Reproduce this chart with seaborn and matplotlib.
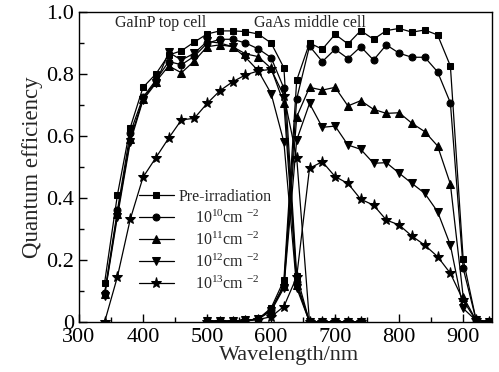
import numpy as np
import pandas as pd
import matplotlib
matplotlib.use("Agg")
import matplotlib.pyplot as plt
import seaborn as sns
from matplotlib.ticker import MultipleLocator, FixedLocator, FixedFormatter

sns.set_theme(style="white")
plt.rcParams['font.family'] = ['Liberation Serif', 'DejaVu Serif']
plt.rcParams['mathtext.fontset'] = 'custom'
plt.rcParams['mathtext.rm'] = 'Liberation Serif'
plt.rcParams['mathtext.it'] = 'Liberation Serif:italic'

# ---------------- data ----------------
wl_top = [340, 360, 380, 400, 420, 440, 460, 480, 500, 520, 540, 560, 580,
          600, 620, 640, 660, 680, 700, 720, 740]
top_pre = [0.127, 0.41, 0.627, 0.757, 0.80, 0.861, 0.875, 0.903, 0.929, 0.939, 0.939,
           0.937, 0.929, 0.90, 0.82, 0.15, 0.0, 0.0, 0.0, 0.0, 0.0]
top_e10 = [0.092, 0.36, 0.61, 0.725, 0.78, 0.84, 0.83, 0.857, 0.899, 0.912, 0.912,
           0.90, 0.881, 0.853, 0.754, 0.13, 0.0, 0.0, 0.0, 0.0, 0.0]
top_e11 = [0.09, 0.35, 0.59, 0.72, 0.775, 0.826, 0.804, 0.842, 0.888, 0.894, 0.888,
           0.865, 0.856, 0.818, 0.705, 0.12, 0.0, 0.0, 0.0, 0.0, 0.0]
top_e12 = [0.085, 0.34, 0.58, 0.716, 0.77, 0.87, 0.845, 0.867, 0.905, 0.90, 0.888,
           0.854, 0.81, 0.737, 0.58, 0.11, 0.0, 0.0, 0.0, 0.0, 0.0]
top_e13 = [0.0, 0.146, 0.331, 0.467, 0.53, 0.593, 0.652, 0.657, 0.705, 0.746, 0.775,
           0.797, 0.81, 0.815, 0.73, 0.53, 0.0, 0.0, 0.0, 0.0, 0.0]

wl_mid = [500, 520, 540, 560, 580, 600, 620, 640, 660, 680, 700, 720, 740, 760,
          780, 800, 820, 840, 860, 880, 900, 920, 940]
mid_pre = [0.003, 0.003, 0.003, 0.005, 0.01, 0.045, 0.135, 0.78, 0.90, 0.88, 0.928,
           0.897, 0.94, 0.912, 0.94, 0.947, 0.935, 0.942, 0.926, 0.826, 0.202, 0.008, 0.0]
mid_e10 = [0.003, 0.003, 0.003, 0.005, 0.01, 0.04, 0.12, 0.72, 0.89, 0.84, 0.88,
           0.85, 0.888, 0.845, 0.894, 0.867, 0.854, 0.854, 0.807, 0.707, 0.173, 0.008, 0.0]
mid_e11 = [0.003, 0.003, 0.003, 0.005, 0.01, 0.04, 0.115, 0.662, 0.757, 0.748, 0.757,
           0.697, 0.714, 0.686, 0.673, 0.675, 0.641, 0.614, 0.568, 0.445, 0.082, 0.006, 0.0]
mid_e12 = [0.003, 0.003, 0.003, 0.005, 0.01, 0.035, 0.11, 0.587, 0.705, 0.628, 0.632,
           0.571, 0.557, 0.512, 0.514, 0.48, 0.447, 0.415, 0.356, 0.248, 0.044, 0.005, 0.0]
mid_e13 = [0.0, 0.0, 0.0, 0.003, 0.008, 0.017, 0.05, 0.146, 0.496, 0.517, 0.469,
           0.447, 0.396, 0.377, 0.329, 0.313, 0.277, 0.248, 0.211, 0.157, 0.07, 0.005, 0.0]

labels = ["Pre-irradiation",
          "    10$^{10}$cm $^{-2}$",
          "    10$^{11}$cm $^{-2}$",
          "    10$^{12}$cm $^{-2}$",
          "    10$^{13}$cm $^{-2}$"]
top_series = [top_pre, top_e10, top_e11, top_e12, top_e13]
mid_series = [mid_pre, mid_e10, mid_e11, mid_e12, mid_e13]
markers = ["s", "o", "^", "v", "*"]
msizes = [4.2, 5, 6, 6, 8]

x_ticks = [300, 400, 500, 600, 700, 800, 900]
y_ticks = [0.0, 0.2, 0.4, 0.6, 0.8, 1.0]
y_ticklabels = ["0", "0.2", "0.4", "0.6", "0.8", "1.0"]

# ---------------- plot ----------------
fig = plt.figure(figsize=(4.99, 3.72), dpi=100)
ax = fig.add_axes([79/499, 1-322/372, (492-79)/499, (322-12)/372])

for lab, t, m, mk, ms in zip(labels, top_series, mid_series, markers, msizes):
    df_t = pd.DataFrame({"wl": wl_top, "qe": t})
    df_m = pd.DataFrame({"wl": wl_mid, "qe": m})
    sns.lineplot(data=df_t, x="wl", y="qe", ax=ax, color="black", marker=mk,
                 markersize=ms, markeredgecolor="black", linewidth=0.9,
                 label=lab, sort=False)
    sns.lineplot(data=df_m, x="wl", y="qe", ax=ax, color="black", marker=mk,
                 markersize=ms, markeredgecolor="black", linewidth=0.9,
                 label="_nolegend_", sort=False)

ax.set_xlim(300, 945)
ax.set_ylim(0, 1.0)
ax.xaxis.set_major_locator(FixedLocator(x_ticks))
ax.xaxis.set_minor_locator(MultipleLocator(50))
ax.yaxis.set_major_locator(FixedLocator(y_ticks))
ax.yaxis.set_major_formatter(FixedFormatter(y_ticklabels))
ax.yaxis.set_minor_locator(MultipleLocator(0.1))
ax.tick_params(axis="both", which="both", direction="in", bottom=True, left=True,
               top=False, right=False, labelsize=16, colors="black")
ax.tick_params(axis="x", which="major", pad=4.5)
ax.tick_params(which="major", length=6, width=1)
ax.tick_params(which="minor", length=3.5, width=1)
for s in ax.spines.values():
    s.set_color("black")
    s.set_linewidth(1.0)

ax.set_xlabel("Wavelength/nm", fontsize=16)
ax.xaxis.set_label_coords(0.508, -0.076)
ax.set_ylabel("Quantum efficiency", fontsize=16.5, labelpad=2)

ax.text(356, 0.965, "GaInP top cell", fontsize=11.5, va="center", ha="left")
ax.text(573, 0.965, "GaAs middle cell", fontsize=11.5, va="center", ha="left")

leg = ax.legend(loc="upper left", bbox_to_anchor=(0.145, 0.43), frameon=False,
                fontsize=11.5, handlelength=2.2, handletextpad=0.3,
                labelspacing=0.3, borderpad=0, borderaxespad=0)

fig.savefig("out.png", dpi=100)
